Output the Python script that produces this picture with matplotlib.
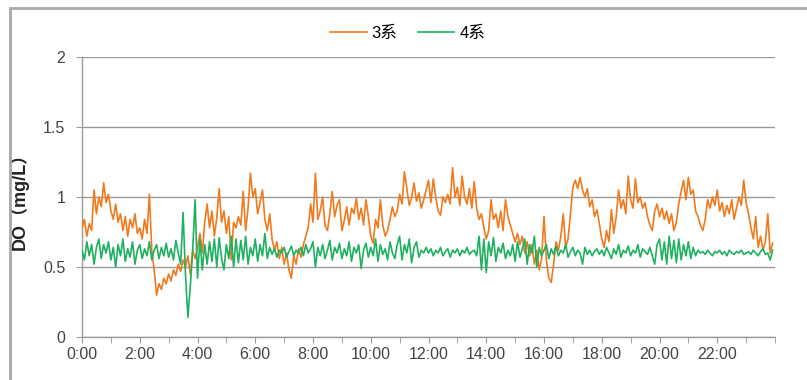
import numpy as np
import matplotlib
matplotlib.use("Agg")
import matplotlib.pyplot as plt
from matplotlib.patches import Rectangle
from matplotlib.ticker import MultipleLocator

plt.rcParams['font.family'] = ['Liberation Sans', 'Noto Sans CJK SC', 'DejaVu Sans']

# DO readings every 5 minutes, one row per hour (0:00 .. 23:55)
do_3 = [
    0.78, 0.84, 0.72, 0.81, 0.76, 1.05, 0.88, 1.00, 0.93, 1.10, 0.96, 1.02,
    0.90, 0.84, 0.95, 0.82, 0.88, 0.76, 0.86, 0.72, 0.84, 0.78, 0.88, 0.74,
    0.78, 0.70, 0.84, 0.74, 1.02, 0.62, 0.48, 0.30, 0.38, 0.34, 0.42, 0.38,
    0.45, 0.40, 0.48, 0.44, 0.52, 0.47, 0.55, 0.50, 0.58, 0.45, 0.62, 0.56,
    0.64, 0.74, 0.60, 0.82, 0.95, 0.78, 0.90, 0.72, 0.85, 1.06, 0.82, 0.90,
    0.74, 0.86, 0.55, 0.82, 0.78, 0.86, 0.80, 1.04, 0.76, 0.92, 1.17, 1.00,
    1.06, 0.88, 0.96, 1.05, 0.84, 0.76, 0.88, 0.70, 0.62, 0.68, 0.56, 0.64,
    0.52, 0.60, 0.48, 0.42, 0.58, 0.52, 0.63, 0.57, 0.66, 0.72, 0.78, 0.95,
    0.82, 1.17, 0.84, 0.90, 1.00, 0.80, 0.76, 0.88, 1.04, 0.86, 0.94, 0.98,
    0.76, 0.83, 0.93, 0.80, 0.92, 0.88, 0.99, 0.84, 0.92, 0.80, 0.98, 0.86,
    0.72, 0.67, 0.84, 0.78, 0.98, 0.80, 0.72, 0.76, 0.84, 0.93, 0.86, 0.90,
    1.02, 0.95, 1.18, 1.06, 0.94, 1.00, 1.10, 0.97, 1.03, 0.92, 0.98, 1.05,
    1.12, 0.96, 1.13, 1.00, 0.90, 0.87, 1.00, 0.96, 1.02, 0.95, 1.21, 1.00,
    1.07, 0.94, 1.15, 1.00, 0.95, 1.06, 0.92, 1.11, 0.92, 0.84, 0.88, 0.78,
    0.70, 0.76, 0.98, 0.84, 0.88, 0.78, 0.90, 0.76, 0.98, 0.86, 0.80, 0.74,
    0.68, 0.74, 0.66, 0.72, 0.60, 0.68, 0.58, 0.66, 0.52, 0.62, 0.48, 0.56,
    0.86, 0.55, 0.42, 0.39, 0.52, 0.68, 0.62, 0.72, 0.88, 0.64, 0.70, 0.88,
    1.07, 1.12, 1.06, 1.14, 1.05, 1.00, 1.06, 0.93, 0.98, 0.86, 0.91, 0.81,
    0.70, 0.64, 0.76, 0.68, 0.91, 0.74, 0.86, 1.05, 0.92, 0.98, 0.88, 1.15,
    0.98, 0.92, 1.13, 0.96, 1.00, 0.92, 0.96, 0.86, 0.80, 0.76, 0.90, 0.95,
    0.86, 0.92, 0.84, 0.90, 0.81, 0.88, 0.76, 0.82, 0.95, 1.04, 1.12, 0.98,
    1.14, 1.02, 1.05, 0.90, 0.86, 0.80, 0.76, 0.84, 0.98, 0.92, 1.00, 0.94,
    1.05, 0.90, 0.96, 0.86, 0.94, 0.88, 0.98, 0.84, 0.92, 1.00, 0.94, 1.12,
    0.96, 0.88, 0.78, 0.70, 0.86, 0.64, 0.72, 0.62, 0.68, 0.88, 0.60, 0.67,
]

do_4 = [
    0.62, 0.55, 0.68, 0.58, 0.66, 0.52, 0.64, 0.70, 0.56, 0.66, 0.60, 0.68,
    0.55, 0.64, 0.50, 0.66, 0.58, 0.70, 0.54, 0.63, 0.57, 0.68, 0.52, 0.62,
    0.66, 0.56, 0.63, 0.58, 0.68, 0.55, 0.62, 0.66, 0.56, 0.64, 0.58, 0.67,
    0.57, 0.63, 0.55, 0.69, 0.60, 0.52, 0.89, 0.45, 0.14, 0.36, 0.62, 0.98,
    0.42, 0.70, 0.48, 0.66, 0.52, 0.68, 0.54, 0.70, 0.50, 0.71, 0.56, 0.48,
    0.66, 0.56, 0.72, 0.50, 0.70, 0.53, 0.69, 0.55, 0.72, 0.52, 0.64, 0.58,
    0.70, 0.54, 0.66, 0.58, 0.74, 0.56, 0.64, 0.59, 0.63, 0.57, 0.62, 0.60,
    0.64, 0.57, 0.61, 0.65, 0.58, 0.62, 0.60, 0.64, 0.58, 0.66, 0.60, 0.63,
    0.68, 0.50, 0.64, 0.58, 0.66, 0.56, 0.62, 0.69, 0.55, 0.64, 0.60, 0.67,
    0.56, 0.63, 0.58, 0.68, 0.54, 0.64, 0.60, 0.66, 0.49, 0.62, 0.67, 0.57,
    0.64, 0.58, 0.70, 0.54, 0.66, 0.59, 0.63, 0.55, 0.68, 0.60, 0.56, 0.66,
    0.72, 0.55, 0.66, 0.60, 0.70, 0.53, 0.64, 0.68, 0.57, 0.62, 0.60, 0.64,
    0.60, 0.63, 0.58, 0.62, 0.60, 0.64, 0.58, 0.61, 0.63, 0.57, 0.62, 0.60,
    0.63, 0.58, 0.62, 0.60, 0.64, 0.59, 0.61, 0.62, 0.58, 0.72, 0.48, 0.70,
    0.46, 0.68, 0.58, 0.71, 0.54, 0.64, 0.60, 0.67, 0.56, 0.62, 0.58, 0.66,
    0.54, 0.68, 0.57, 0.63, 0.70, 0.52, 0.66, 0.60, 0.72, 0.50, 0.64, 0.58,
    0.62, 0.66, 0.56, 0.63, 0.59, 0.65, 0.58, 0.62, 0.60, 0.66, 0.57, 0.61,
    0.64, 0.58, 0.62, 0.60, 0.52, 0.64, 0.59, 0.62, 0.58, 0.61, 0.63, 0.59,
    0.62, 0.58, 0.64, 0.60, 0.56, 0.63, 0.59, 0.66, 0.57, 0.62, 0.60, 0.65,
    0.58, 0.62, 0.60, 0.66, 0.57, 0.63, 0.61, 0.59, 0.64, 0.58, 0.52, 0.66,
    0.70, 0.55, 0.68, 0.52, 0.72, 0.56, 0.69, 0.53, 0.70, 0.55, 0.66, 0.58,
    0.68, 0.56, 0.64, 0.58, 0.62, 0.60, 0.61, 0.59, 0.62, 0.60, 0.58, 0.61,
    0.60, 0.62, 0.59, 0.61, 0.58, 0.62, 0.60, 0.59, 0.61, 0.60, 0.62, 0.59,
    0.60, 0.61, 0.59, 0.62, 0.60, 0.58, 0.61, 0.63, 0.59, 0.60, 0.55, 0.62,
]

hours = np.arange(len(do_3)) * 5 / 60.0
tick_hours = list(range(0, 24, 2))
tick_labels = ["%d:00" % h for h in tick_hours]

fig = plt.figure(figsize=(8.07, 3.8), dpi=100)
ax = fig.add_axes([82 / 807, 1 - 337 / 380, 693 / 807, 280 / 380])

grid_c = '#9a9a9a'
ax.plot(hours, do_3, color='#F07A1E', lw=1.2, label='3系', zorder=3)
ax.plot(hours, do_4, color='#1FB060', lw=1.2, label='4系', zorder=4)

ax.set_xlim(0, 24)
ax.set_ylim(0, 2)
ax.set_xticks(tick_hours)
ax.set_xticklabels(tick_labels)
ax.xaxis.set_minor_locator(MultipleLocator(1))
ax.set_yticks([0, 0.5, 1, 1.5, 2])
ax.set_yticklabels(['0', '0.5', '1', '1.5', '2'])
ax.yaxis.grid(True, color=grid_c, lw=1.0)
ax.set_axisbelow(True)

for s in ['top', 'right']:
    ax.spines[s].set_visible(False)
for s in ['left', 'bottom']:
    ax.spines[s].set_color(grid_c)
    ax.spines[s].set_linewidth(1.0)

ax.tick_params(axis='both', which='both', direction='out', color=grid_c,
               labelsize=11.5, labelcolor='#444444')
ax.tick_params(axis='x', which='major', length=4, pad=3)
ax.tick_params(axis='x', which='minor', length=4)
ax.tick_params(axis='y', length=4, pad=8)

ax.set_ylabel('DO（mg/L）', fontsize=13, fontweight='bold', color='#222222', labelpad=10)

fig.legend(loc='center', bbox_to_anchor=(0.505, 0.913), ncol=2, frameon=False,
           fontsize=12, handlelength=2.2, handletextpad=0.3, columnspacing=1.2)

fig.patches.append(Rectangle((10 / 807, -0.02), 1.05, 1 - 8 / 380 + 0.02,
                             transform=fig.transFigure, fill=False,
                             edgecolor='#a8a8a8', lw=2))

fig.savefig('out.png', dpi=100)
